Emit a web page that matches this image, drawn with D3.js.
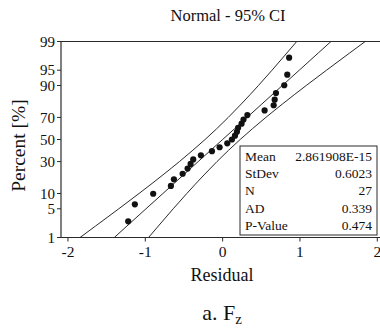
<!DOCTYPE html>
<html>
<head>
<meta charset="utf-8">
<script src="https://cdn.jsdelivr.net/npm/d3@7"></script>
<style>
  body { margin: 0; background: #fff; }
</style>
</head>
<body>
<div id="chart"></div>
<script>
// residuals (sorted) and their plotted percent
const residuals = [-1.221, -1.135, -0.898, -0.669, -0.630, -0.517, -0.453, -0.414, -0.380,
  -0.281, -0.138, -0.039, 0.060, 0.120, 0.160, 0.185, 0.200, 0.245, 0.270, 0.320,
  0.543, 0.660, 0.673, 0.690, 0.797, 0.836, 0.860];
const percents = [2.6, 6.2, 9.9, 13.5, 17.2, 20.8, 24.5, 28.1, 31.8, 35.4, 39.1, 42.7, 46.4,
  50.0, 53.6, 57.3, 60.9, 64.6, 68.2, 71.9, 75.5, 79.2, 82.8, 86.5, 90.1, 93.8, 97.4];

// fitted line and 95% CI bands, read at these percents
const bandPct   = [1, 2, 5, 10, 20, 30, 40, 50, 60, 70, 80, 90, 95, 98, 99];
const fitLine   = [-1.401, -1.237, -0.991, -0.772, -0.507, -0.316, -0.153, 0, 0.153, 0.316, 0.507, 0.772, 0.991, 1.237, 1.401];
const bandLeft  = [-1.844, -1.643, -1.343, -1.081, -0.773, -0.559, -0.384, -0.227, -0.078, 0.073, 0.241, 0.463, 0.639, 0.831, 0.958];
const bandRight = [-0.958, -0.831, -0.639, -0.463, -0.241, -0.073, 0.078, 0.227, 0.384, 0.559, 0.773, 1.081, 1.343, 1.643, 1.844];

const yTicks = [1, 5, 10, 30, 50, 70, 90, 95, 99];
const xTicks = [-2, -1, 0, 1, 2];

const statLabels = ["Mean", "StDev", "N", "AD", "P-Value"];
const statValues = ["2.861908E-15", "0.6023", "27", "0.339", "0.474"];

// inverse normal (Acklam) for the probability axis
function probit(p) {
  const a = [-39.69683028665376, 220.9460984245205, -275.9285104469687, 138.357751867269, -30.66479806614716, 2.506628277459239];
  const b = [-54.47609879822406, 161.5858368580409, -155.6989798598866, 66.80131188771972, -13.28068155288572];
  const c = [-0.007784894002430293, -0.3223964580411365, -2.400758277161838, -2.549732539343734, 4.374664141464968, 2.938163982698783];
  const d = [0.007784695709041462, 0.3224671290700398, 2.445134137142996, 3.754408661907416];
  const pl = 0.02425;
  let q, r;
  if (p < pl) {
    q = Math.sqrt(-2 * Math.log(p));
    return (((((c[0]*q+c[1])*q+c[2])*q+c[3])*q+c[4])*q+c[5]) / ((((d[0]*q+d[1])*q+d[2])*q+d[3])*q+1);
  } else if (p <= 1 - pl) {
    q = p - 0.5; r = q * q;
    return (((((a[0]*r+a[1])*r+a[2])*r+a[3])*r+a[4])*r+a[5])*q / (((((b[0]*r+b[1])*r+b[2])*r+b[3])*r+b[4])*r+1);
  } else {
    q = Math.sqrt(-2 * Math.log(1 - p));
    return -(((((c[0]*q+c[1])*q+c[2])*q+c[3])*q+c[4])*q+c[5]) / ((((d[0]*q+d[1])*q+d[2])*q+d[3])*q+1);
  }
}

const W = 380, H = 329;
const svg = d3.select("#chart").append("svg")
  .attr("width", W).attr("height", H);

const x = d3.scaleLinear().domain([-2.09, 2.035]).range([61, 380]);
const zScale = d3.scaleLinear().domain([probit(0.01), probit(0.99)]).range([237.5, 41.5]);
const y = p => zScale(probit(p / 100));

const stroke = "#2a2a2a";

// frame: top, left, bottom
const [x0, x1] = x.range();
svg.append("line").attr("x1", x0).attr("x2", x1).attr("y1", y(99)).attr("y2", y(99))
  .attr("stroke", stroke).attr("stroke-width", 1.2);
svg.append("line").attr("x1", x0).attr("x2", x1).attr("y1", y(1)).attr("y2", y(1))
  .attr("stroke", stroke).attr("stroke-width", 1.2);
svg.append("line").attr("x1", x0).attr("x2", x0).attr("y1", y(99)).attr("y2", y(1))
  .attr("stroke", stroke).attr("stroke-width", 1.2);

// y ticks
const yg = svg.append("g");
yTicks.forEach(t => {
  yg.append("line").attr("x1", x0 - 4).attr("x2", x0).attr("y1", y(t)).attr("y2", y(t))
    .attr("stroke", stroke);
  yg.append("text").attr("x", x0 - 6).attr("y", y(t)).attr("dy", "0.34em")
    .attr("text-anchor", "end").attr("font-size", 15).text(t);
});

// x ticks
const xg = svg.append("g");
xTicks.forEach(t => {
  xg.append("line").attr("x1", x(t)).attr("x2", x(t)).attr("y1", y(1)).attr("y2", y(1) + 4)
    .attr("stroke", stroke);
  xg.append("text").attr("x", x(t)).attr("y", y(1) + 19)
    .attr("text-anchor", "middle").attr("font-size", 15.5).text(t);
});

// fit and CI lines
const line = d3.line().x(d => x(d[0])).y(d => y(d[1])).curve(d3.curveMonotoneY);
[bandLeft, fitLine, bandRight].forEach(arr => {
  svg.append("path")
    .datum(arr.map((v, i) => [v, bandPct[i]]))
    .attr("d", line)
    .attr("fill", "none").attr("stroke", stroke).attr("stroke-width", 1);
});

// points
svg.append("g").selectAll("circle")
  .data(residuals.map((r, i) => [r, percents[i]]))
  .join("circle")
  .attr("cx", d => x(d[0])).attr("cy", d => y(d[1]))
  .attr("r", 3.1).attr("fill", "#111");

// stats box
const bx = 240, by = 146, bw = 137, rowH = 17.2;
svg.append("rect").attr("x", bx).attr("y", by).attr("width", bw).attr("height", rowH * statLabels.length + 3)
  .attr("fill", "#fff").attr("stroke", stroke).attr("stroke-width", 1);
statLabels.forEach((s, i) => {
  const ty = by + 15 + i * rowH;
  svg.append("text").attr("x", bx + 5).attr("y", ty).attr("font-size", 13.5).text(s);
  svg.append("text").attr("x", bx + bw - 5).attr("y", ty).attr("text-anchor", "end")
    .attr("font-size", 13.5).text(statValues[i]);
});

// titles
svg.append("text").attr("x", 228).attr("y", 21).attr("text-anchor", "middle")
  .attr("font-size", 16.5).text("Normal - 95% CI");
svg.append("text").attr("transform", `translate(25,${y(50) + 6}) rotate(-90)`)
  .attr("text-anchor", "middle").attr("font-size", 19.5).text("Percent [%]");
svg.append("text").attr("x", 222).attr("y", 281).attr("text-anchor", "middle")
  .attr("font-size", 18).text("Residual");
const cap = svg.append("text").attr("x", 222).attr("y", 320).attr("text-anchor", "middle")
  .attr("font-size", 22);
cap.append("tspan").text("a. F");
cap.append("tspan").attr("font-size", 15).attr("dy", 4).text("z");

// serif everywhere, set on each text node
svg.selectAll("text").style("font-family", '"Liberation Serif"').style("fill", "#111");
</script>
</body>
</html>
